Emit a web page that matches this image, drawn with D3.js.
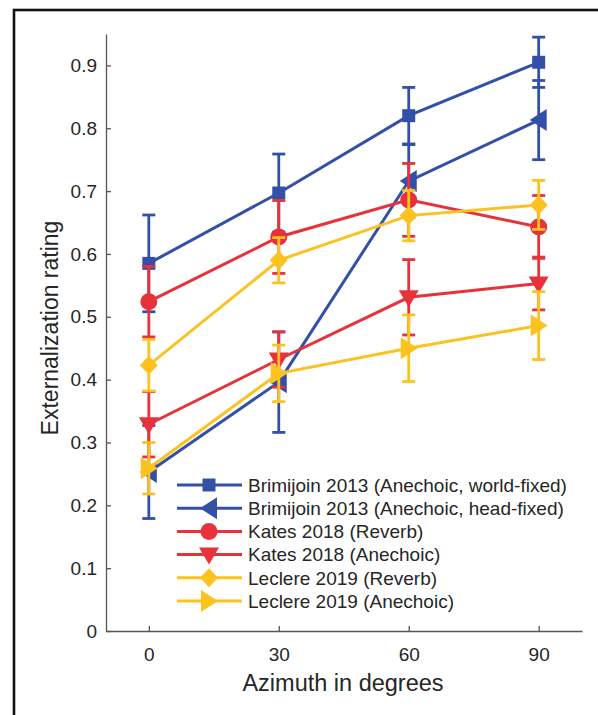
<!DOCTYPE html>
<html>
<head>
<meta charset="utf-8">
<script src="https://cdn.jsdelivr.net/npm/d3@7"></script>
<style>
  body { margin: 0; background: #fff; }
  text { font-family: "Liberation Sans", Arial, sans-serif; fill: #262626; }
</style>
</head>
<body>
<svg id="chart" width="598" height="715"></svg>
<script>
// azimuth categories and y tick labels
const azimuths = [0, 30, 60, 90];
const yTicks = [0, 0.1, 0.2, 0.3, 0.4, 0.5, 0.6, 0.7, 0.8, 0.9];

// series values (mean) and half-width of error bars
const brimWorldMean = [0.585, 0.697, 0.820, 0.905];
const brimWorldErr  = [0.077, 0.062, 0.045, 0.040];
const brimHeadMean  = [0.253, 0.396, 0.716, 0.813];
const brimHeadErr   = [0.074, 0.080, 0.058, 0.063];
const katesRevMean  = [0.524, 0.627, 0.686, 0.643];
const katesRevErr   = [0.056, 0.058, 0.058, 0.050];
const katesAneMean  = [0.329, 0.432, 0.531, 0.553];
const katesAneErr   = [0.052, 0.044, 0.060, 0.042];
const lecRevMean    = [0.423, 0.590, 0.661, 0.678];
const lecRevErr     = [0.041, 0.036, 0.040, 0.039];
const lecAneMean    = [0.259, 0.410, 0.450, 0.486];
const lecAneErr     = [0.041, 0.045, 0.053, 0.054];

const names = [
  "Brimijoin 2013 (Anechoic, world-fixed)",
  "Brimijoin 2013 (Anechoic, head-fixed)",
  "Kates 2018 (Reverb)",
  "Kates 2018 (Anechoic)",
  "Leclere 2019 (Reverb)",
  "Leclere 2019 (Anechoic)"
];

const blue = "#3350a9", red = "#e8323a", yellow = "#fcc21f";

const series = [
  { name: names[0], mean: brimWorldMean, err: brimWorldErr, color: blue, marker: "square" },
  { name: names[1], mean: brimHeadMean, err: brimHeadErr, color: blue, marker: "left" },
  { name: names[2], mean: katesRevMean, err: katesRevErr, color: red, marker: "circle" },
  { name: names[3], mean: katesAneMean, err: katesAneErr, color: red, marker: "down" },
  { name: names[4], mean: lecRevMean, err: lecRevErr, color: yellow, marker: "diamond" },
  { name: names[5], mean: lecAneMean, err: lecAneErr, color: yellow, marker: "right" }
];

const svg = d3.select("#chart");

// outer frame
svg.append("rect").attr("x", 14).attr("y", 10).attr("width", 600).attr("height", 720)
   .attr("fill", "none").attr("stroke", "#111").attr("stroke-width", 2.6);

const x = d3.scaleLinear().domain([-10, 100]).range([105.5, 582]);
const y = d3.scaleLinear().domain([0, 0.95]).range([631, 34]);

// axes (inward ticks, no box)
const yAxis = svg.append("g").attr("transform", "translate(106,0)")
  .call(d3.axisLeft(y).tickValues(yTicks).tickSizeInner(-5).tickSizeOuter(0).tickPadding(9)
        .tickFormat(d => d === 0 ? "0" : d.toFixed(1)));
const xAxis = svg.append("g").attr("transform", "translate(0,631)")
  .call(d3.axisBottom(x).tickValues(azimuths).tickSizeInner(-5).tickSizeOuter(0).tickPadding(17));
[yAxis, xAxis].forEach(g => {
  g.select(".domain").attr("stroke", "#555").attr("stroke-width", 1.3);
  g.selectAll(".tick line").attr("stroke", "#555").attr("stroke-width", 1.3);
  g.selectAll(".tick text").style("font-size", "19px").attr("fill", "#262626");
});

svg.append("text").attr("transform", "translate(58,328) rotate(-90)")
   .attr("text-anchor", "middle").style("font-size", "23px").text("Externalization rating");
svg.append("text").attr("x", 343).attr("y", 691)
   .attr("text-anchor", "middle").style("font-size", "23.5px").text("Azimuth in degrees");

function markerPath(type) {
  switch (type) {
    case "square": return "M-6.5,-6.5H6.5V6.5H-6.5Z";
    case "circle": return d3.symbol(d3.symbolCircle, Math.PI * 8.5 * 8.5)();
    case "diamond": return "M0,-9.5L9,0L0,9.5L-9,0Z";
    case "down": return "M-10,-7L10,-7L0,10Z";
    case "left": return "M-9,0L8,-11L8,11Z";
    case "right": return "M9,0L-8,-11L-8,11Z";
  }
}

series.forEach(s => {
  const g = svg.append("g");
  const pts = azimuths.map((a, i) => ({ a, m: s.mean[i], e: s.err[i] }));
  // error bars
  const eb = g.selectAll(".eb").data(pts).join("g")
    .attr("stroke", s.color).attr("stroke-width", 2.8);
  eb.append("line").attr("x1", d => x(d.a)).attr("x2", d => x(d.a))
    .attr("y1", d => y(d.m - d.e)).attr("y2", d => y(d.m + d.e));
  eb.append("line").attr("x1", d => x(d.a) - 6.5).attr("x2", d => x(d.a) + 6.5)
    .attr("y1", d => y(d.m + d.e)).attr("y2", d => y(d.m + d.e));
  eb.append("line").attr("x1", d => x(d.a) - 6.5).attr("x2", d => x(d.a) + 6.5)
    .attr("y1", d => y(d.m - d.e)).attr("y2", d => y(d.m - d.e));
  // line
  g.append("path").datum(pts).attr("fill", "none").attr("stroke", s.color)
    .attr("stroke-width", 3).attr("d", d3.line().x(d => x(d.a)).y(d => y(d.m)));
  // markers
  g.selectAll(".mk").data(pts).join("path")
    .attr("d", markerPath(s.marker)).attr("fill", s.color)
    .attr("transform", d => `translate(${x(d.a)},${y(d.m)})`);
});

// legend
const legY = d3.scaleLinear().domain([0, 5]).range([485, 601]);
const leg = svg.append("g").selectAll("g").data(series).join("g")
  .attr("transform", (d, i) => `translate(0,${legY(i)})`);
leg.append("line").attr("x1", 177).attr("x2", 242).attr("y1", 0).attr("y2", 0)
   .attr("stroke", d => d.color).attr("stroke-width", 3);
leg.append("path").attr("d", d => markerPath(d.marker)).attr("fill", d => d.color)
   .attr("transform", "translate(209,0)");
leg.append("text").attr("x", 248).attr("y", 0).attr("dy", "0.36em")
   .style("font-size", "19px").text(d => d.name);
</script>
</body>
</html>
